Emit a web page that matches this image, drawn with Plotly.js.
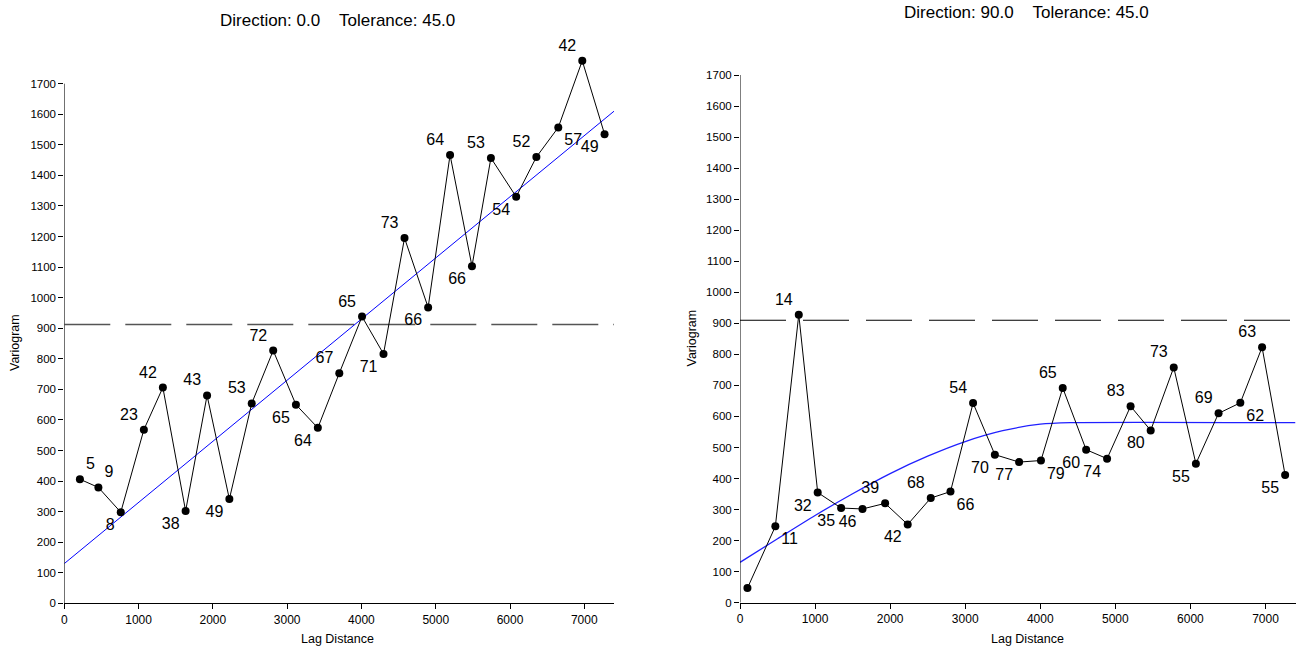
<!DOCTYPE html>
<html>
<head>
<meta charset="utf-8">
<script src="https://cdn.plot.ly/plotly-3.0.1.min.js"></script>
<style>html,body{margin:0;padding:0;background:#fff;}#chart{width:1304px;height:648px;}</style>
</head>
<body>
<div id="chart"></div>
<script>
// ---------- data: Direction 0.0 ----------
const leftLag = [210,459,760,1071,1327,1633,1922,2222,2523,2812,3118,3413,3702,4008,4297,4580,4898,5193,5488,5743,6083,6355,6650,6973,7273];
const leftGamma = [406,379,298,568,706,302,680,341,654,827,650,574,753,938,816,1195,968,1467,1103,1457,1330,1460,1557,1775,1535];
const leftPairs = ["5","9","8","23","42","38","43","49","53","72","65","64","67","65","71","73","66","64","66","53","54","52","57","42","49"];
const leftModelLag = [0,7400];
const leftModelGamma = [130,1610];
const leftSillLag = [0,7400];
const leftSill = [912,912];

// ---------- data: Direction 90.0 ----------
const rightLag = [99,471,783,1035,1347,1632,1933,2234,2541,2804,3105,3395,3718,4009,4299,4611,4890,5203,5471,5778,6073,6375,6665,6955,7262];
const rightGamma = [47,246,928,355,305,302,320,252,337,358,643,477,453,458,692,493,464,633,555,758,448,610,644,823,411];
const rightPairs = ["","11","14","32","35","46","39","42","68","66","54","70","77","79","65","60","74","83","80","73","55","69","62","63","55"];
const rightModelLag = [0,500,1000,1500,2000,2500,3000,3500,4000,4400,7400];
const rightModelGamma = [130,206,281,351,416,472,519,554,575,580,580];
const rightSillLag = [0,7400];
const rightSill = [910,910];

// tick values / texts
const yTicks = [0,100,200,300,400,500,600,700,800,900,1000,1100,1200,1300,1400,1500,1600,1700];
const xTicks = [0,1000,2000,3000,4000,5000,6000,7000];
const titleLeft = "Direction: 0.0\u00a0\u00a0\u00a0\u00a0Tolerance: 45.0";
const titleRight = "Direction: 90.0\u00a0\u00a0\u00a0\u00a0Tolerance: 45.0";
const xTitle = "Lag Distance";
const yTitle = "Variogram";

// ---------- styles ----------
const leftPos = ["top right","top right","bottom left","top left","top left","bottom left","top left","bottom left","top left","top left","bottom left","bottom left","top left","top left","bottom left","top left","bottom left","top left","bottom left","top left","bottom left","top left","bottom right","top left","bottom left"];
const rightPos = ["bottom left","bottom right","top left","bottom left","bottom left","bottom left","top left","bottom left","top left","bottom right","top left","bottom left","bottom left","bottom right","top left","bottom left","bottom left","top left","bottom left","top left","bottom left","top left","bottom right","top left","bottom left"];

const FONT = "Liberation Sans, Arial, Helvetica, sans-serif";
const W = 1304, H = 648;
const px = v => v / W;
const py = v => 1 - v / H;

const traces = [
  {x: leftSillLag, y: leftSill, xaxis:'x', yaxis:'y', mode:'lines', line:{color:'#555555', width:1.6, dash:'46px,15px'}, hoverinfo:'skip'},
  {x: leftModelLag, y: leftModelGamma, xaxis:'x', yaxis:'y', mode:'lines', line:{color:'#0000ff', width:1}, hoverinfo:'skip'},
  {x: leftLag, y: leftGamma, text: leftPairs, textposition: leftPos, xaxis:'x', yaxis:'y', mode:'lines+markers+text',
   line:{color:'#000', width:1}, marker:{color:'#000', size:8}, textfont:{family:FONT, size:16, color:'#000'}, cliponaxis:false},
  {x: rightSillLag, y: rightSill, xaxis:'x2', yaxis:'y2', mode:'lines', line:{color:'#000000', width:1.2, dash:'46px,17px'}, hoverinfo:'skip'},
  {x: rightModelLag, y: rightModelGamma, xaxis:'x2', yaxis:'y2', mode:'lines', line:{color:'#2020ff', width:1.3, shape:'spline', smoothing:0.6}, hoverinfo:'skip'},
  {x: rightLag, y: rightGamma, text: rightPairs, textposition: rightPos, xaxis:'x2', yaxis:'y2', mode:'lines+markers+text',
   line:{color:'#000', width:1}, marker:{color:'#000', size:8}, textfont:{family:FONT, size:16, color:'#000'}, cliponaxis:false}
];

const xCommon = {range:[0,7400], tickvals:xTicks, ticks:'outside', ticklen:5, tickwidth:1, tickcolor:'#000',
  showline:true, linecolor:'#000', linewidth:1, showgrid:false, zeroline:false,
  tickfont:{family:FONT, size:12, color:'#000'}, fixedrange:true};
const yCommon = {tickvals:yTicks, ticks:'outside', ticklen:5, tickwidth:1, tickcolor:'#000',
  showline:false, showgrid:false, zeroline:false, tickfont:{family:FONT, size:11.5, color:'#000'}, fixedrange:true};

const layout = {
  width: W, height: H,
  margin:{l:0, r:0, t:0, b:0, pad:0},
  paper_bgcolor:'#fff', plot_bgcolor:'rgba(0,0,0,0)',
  showlegend:false,
  font:{family:FONT, color:'#000'},
  xaxis: Object.assign({}, xCommon, {domain:[px(64.3), px(614)], anchor:'y'}),
  yaxis: Object.assign({}, yCommon, {domain:[py(603.3), py(30)], range:[0,1875.7], anchor:'x'}),
  xaxis2: Object.assign({}, xCommon, {domain:[px(740), px(1295.5)], anchor:'y2'}),
  yaxis2: Object.assign({}, yCommon, {domain:[py(602.7), py(30)], range:[0,1845], anchor:'x2'}),
  shapes: [
    {type:'line', xref:'x', yref:'y', x0:0, x1:0, y0:0, y1:1700, line:{color:'#000', width:1}},
    {type:'line', xref:'x2', yref:'y2', x0:0, x1:0, y0:0, y1:1700, line:{color:'#000', width:1}}
  ],
  annotations: [
    {text:titleLeft, xref:'paper', yref:'paper', x:px(337.5), y:py(20), xanchor:'center', yanchor:'middle', showarrow:false, font:{family:FONT, size:17, color:'#000'}},
    {text:titleRight, xref:'paper', yref:'paper', x:px(1026.7), y:py(13), xanchor:'center', yanchor:'middle', showarrow:false, font:{family:FONT, size:17, color:'#000'}},
    {text:xTitle, xref:'paper', yref:'paper', x:px(337), y:py(639), xanchor:'center', yanchor:'middle', showarrow:false, font:{family:FONT, size:12.5, color:'#000'}},
    {text:xTitle, xref:'paper', yref:'paper', x:px(1027), y:py(639), xanchor:'center', yanchor:'middle', showarrow:false, font:{family:FONT, size:12.5, color:'#000'}},
    {text:yTitle, xref:'paper', yref:'paper', x:px(15), y:py(343), xanchor:'center', yanchor:'middle', textangle:-90, showarrow:false, font:{family:FONT, size:12.5, color:'#000'}},
    {text:yTitle, xref:'paper', yref:'paper', x:px(691.5), y:py(338), xanchor:'center', yanchor:'middle', textangle:-90, showarrow:false, font:{family:FONT, size:12.5, color:'#000'}}
  ]
};

Plotly.newPlot('chart', traces, layout, {displayModeBar:false, staticPlot:true});
</script>
</body>
</html>
